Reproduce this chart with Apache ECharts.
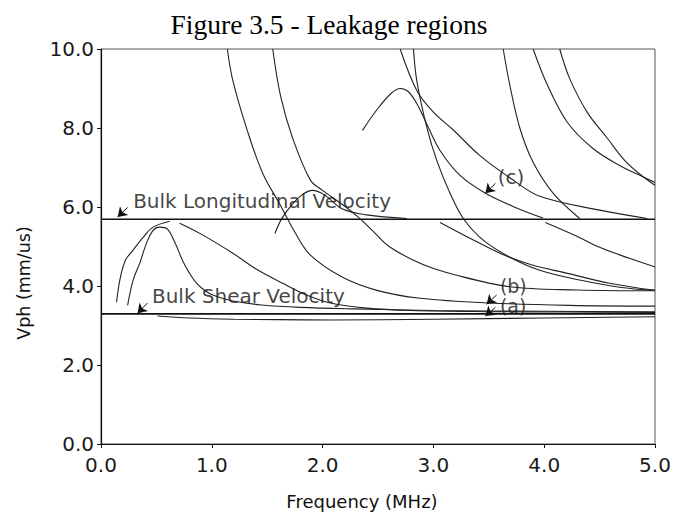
<!DOCTYPE html>
<html><head><meta charset="utf-8">
<script src="https://cdn.jsdelivr.net/npm/echarts@6/dist/echarts.min.js"></script>
<style>html,body{margin:0;padding:0;background:#fff}#c{width:675px;height:513px}</style>
</head><body><div id="c"></div>
<script>
// ---- data (value space: Frequency MHz, Vph mm/us) ----
const titleText = "Figure 3.5 - Leakage regions";
const xName = "Frequency (MHz)";
const yName = "Vph (mm/us)";
const xTicks = [0, 1, 2, 3, 4, 5];
const yTicks = [0, 2, 4, 6, 8, 10];

const bulkLongitudinal = [[0, 5.69], [5, 5.69]];
const bulkShear = [[0, 3.295], [5, 3.295]];

const hump1Outer = [[0.14,3.59],[0.17,4.15],[0.22,4.65],[0.29,4.91],[0.38,5.23],[0.47,5.49],[0.62,5.64]];
const hump1Inner = [[0.24,3.51],[0.29,4.15],[0.35,4.58],[0.41,5.08],[0.47,5.41],[0.53,5.49],[0.60,5.44],[0.67,5.08],[0.74,4.62],[0.80,4.32],[0.86,4.08],[0.93,3.9],[1.02,3.76],[1.19,3.62],[1.45,3.52],[1.8,3.46],[2.3,3.42],[3.0,3.38],[4.0,3.36],[5.0,3.35]];
const modeLow = [[0.71,5.59],[0.9,5.32],[1.19,4.83],[1.4,4.43],[1.64,4.07],[1.85,3.78],[2.07,3.57],[2.4,3.44],[2.8,3.38],[3.48,3.35],[4.2,3.34],[5.0,3.33]];
const modeBottom = [[0.51,3.24],[0.8,3.19],[1.2,3.16],[1.6,3.15],[2.07,3.14],[3.0,3.16],[4.0,3.19],[5.0,3.22]];
const modeA1 = [[1.14,10],[1.19,9.2],[1.32,7.94],[1.46,6.85],[1.62,6.04],[1.75,5.36],[1.89,4.78],[2.18,4.22],[2.49,3.89],[2.88,3.69],[3.51,3.57],[4.23,3.51],[5.0,3.49]];
const modeA2 = [[1.55,10],[1.62,8.82],[1.73,7.74],[1.89,6.68],[2.0,6.42],[2.2,6.02],[2.34,5.7],[2.45,5.4],[2.6,5.0],[2.9,4.55],[3.2,4.28],[3.69,3.98],[4.3,3.9],[5.0,3.88]];
const hump2 = [[1.57,5.33],[1.63,5.7],[1.72,6.05],[1.82,6.32],[1.91,6.42],[2.02,6.3],[2.18,5.95],[2.4,5.8],[2.76,5.71]];
const modeS = [[2.82,10],[2.85,9.2],[2.94,8.02],[3.03,7.18],[3.15,6.35],[3.27,5.71],[3.45,5.16],[3.69,4.73],[3.96,4.40],[4.32,4.15],[4.68,3.97],[5.0,3.89]];
const modeLc = [[3.06,5.61],[3.33,5.21],[3.60,4.83],[3.87,4.55],[4.21,4.32],[4.59,4.07],[5.0,3.89]];
const modeLd = [[4.01,5.61],[4.28,5.28],[4.50,4.98],[4.77,4.70],[5.0,4.48]];
const humpC = [[2.36,7.94],[2.5,8.5],[2.62,8.88],[2.70,9.0],[2.77,8.93],[2.85,8.62],[2.94,8.1],[3.06,7.43],[3.24,6.80],[3.47,6.35],[3.74,5.99],[3.99,5.72]];
const modeT = [[2.70,10],[2.85,8.95],[3.0,8.4],[3.18,7.95],[3.42,7.3],[3.7,6.72],[3.96,6.27],[4.5,5.92],[4.93,5.71]];
const modeR2 = [[3.63,10],[3.69,9.08],[3.78,8.0],[3.90,7.13],[4.08,6.35],[4.32,5.71]];
const modeR1a = [[3.90,10],[4.03,9.08],[4.21,8.14],[4.44,7.48],[4.68,7.05],[4.85,6.82],[5.0,6.62]];
const modeR1b = [[4.14,10],[4.23,9.25],[4.39,8.39],[4.57,7.74],[4.72,7.2],[4.85,6.86],[5.0,6.55]];

const annotationTexts = ["Bulk Longitudinal Velocity", "Bulk Shear Velocity", "(c)", "(b)", "(a)"];
const annotationAt = [[0.29,6.14],[0.46,3.74],[3.58,6.75],[3.60,4.01],[3.60,3.50]];
const annotationSize = [20, 20, 20, 19, 19];
const arrowFrom = [[0.24,5.99],[0.42,3.57],[3.56,6.60],[3.57,3.77],[3.56,3.46]];
const arrowTo = [[0.15,5.75],[0.33,3.31],[3.47,6.35],[3.48,3.54],[3.47,3.24]];

const curves = [hump1Outer, hump1Inner, modeLow, modeBottom, modeA1, modeA2, hump2, modeS, modeLc, modeLd, humpC, modeT, modeR2, modeR1a, modeR1b];

// ---- chart ----
const chart = echarts.init(document.getElementById('c'), null, {renderer: 'svg'});
const FONT = 'DejaVu Sans';
const series = [];
curves.forEach(c => series.push({
  type: 'line', data: c, showSymbol: false, smooth: 0.35,
  lineStyle: {color: '#222', width: 1.1}, silent: true, animation: false
}));
[bulkLongitudinal, bulkShear].forEach(c => series.push({
  type: 'line', data: c, showSymbol: false,
  lineStyle: {color: '#111', width: 1.6}, silent: true, animation: false
}));
series.push({
  type: 'scatter', symbolSize: 0, silent: true, animation: false,
  data: annotationTexts.map((t, i) => ({name: t, value: annotationAt[i],
    label: {fontSize: annotationSize[i]}})),
  label: {show: true, position: 'right', distance: 0, formatter: p => p.name,
    fontFamily: FONT, fontSize: 20, color: '#111'},
  markLine: {
    silent: true, animation: false, symbol: ['none', 'arrow'], symbolSize: 9,
    itemStyle: {color: '#111'},
    lineStyle: {type: 'solid', color: '#111', width: 1},
    label: {show: false},
    data: arrowFrom.map((f, i) => [{coord: f}, {coord: arrowTo[i]}])
  }
});

chart.setOption({
  animation: false,
  backgroundColor: '#fff',
  grid: {left: 101, right: 20, top: 49, bottom: 69, show: true, borderColor: '#555', borderWidth: 1},
  xAxis: {
    type: 'value', min: xTicks[0], max: xTicks[xTicks.length - 1], interval: 1,
    axisLine: {lineStyle: {color: '#111', width: 1.2}},
    axisTick: {show: true, length: 4, lineStyle: {color: '#111'}},
    splitLine: {show: false},
    axisLabel: {fontFamily: FONT, fontSize: 20, color: '#1a1a1a', margin: 11, formatter: v => v.toFixed(1)}
  },
  yAxis: {
    type: 'value', min: yTicks[0], max: yTicks[yTicks.length - 1], interval: 2,
    axisLine: {show: true, lineStyle: {color: '#111', width: 1.2}},
    axisTick: {show: true, length: 4, lineStyle: {color: '#111'}},
    splitLine: {show: false},
    axisLabel: {fontFamily: FONT, fontSize: 20, color: '#1a1a1a', margin: 7, formatter: v => v.toFixed(1)}
  },
  graphic: [
    {type: 'text', x: 329, y: 24, silent: true,
     style: {text: titleText, font: '27.5px "Liberation Serif", "Times New Roman", serif', fill: '#000', align: 'center', verticalAlign: 'middle'}},
    {type: 'text', x: 362, y: 501, silent: true,
     style: {text: xName, font: '18px "DejaVu Sans"', fill: '#111', align: 'center', verticalAlign: 'middle'}},
    {type: 'text', x: 24, y: 283, rotation: Math.PI / 2, silent: true,
     style: {text: yName, font: '17.5px "DejaVu Sans"', fill: '#111', align: 'center', verticalAlign: 'middle'}}
  ],
  series: series
});
</script>
</body></html>
